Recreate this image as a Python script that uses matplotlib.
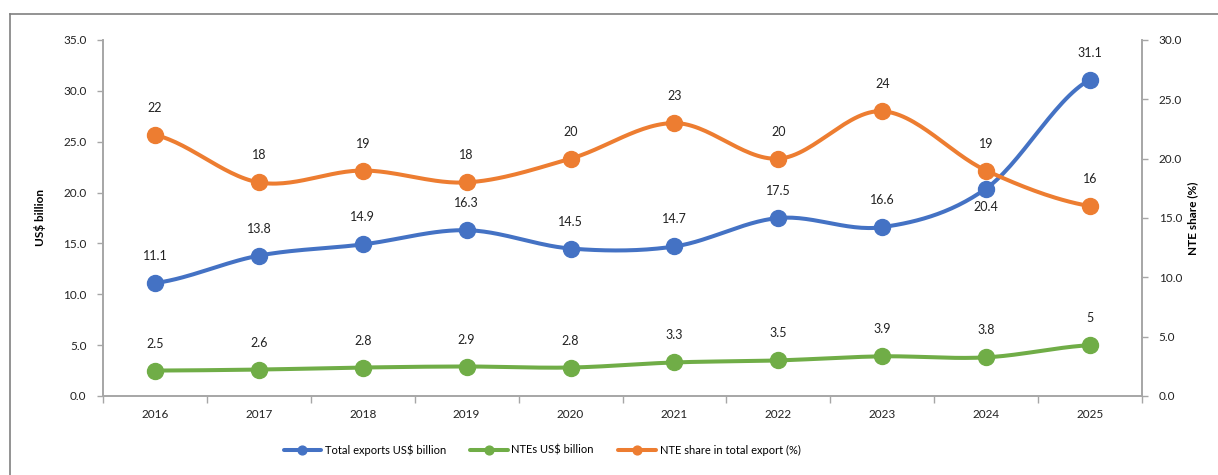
import numpy as np
from matplotlib import pyplot as plt
from matplotlib.lines import Line2D

plt.rcParams['font.family'] = ['Lato', 'DejaVu Sans']

years = ['2016', '2017', '2018', '2019', '2020', '2021', '2022', '2023', '2024', '2025']
total_exports = [11.1, 13.8, 14.9, 16.3, 14.5, 14.7, 17.5, 16.6, 20.4, 31.1]
ntes = [2.5, 2.6, 2.8, 2.9, 2.8, 3.3, 3.5, 3.9, 3.8, 5]
nte_share = [22, 18, 19, 18, 20, 23, 20, 24, 19, 16]

BLUE = '#4472C4'
GREEN = '#70AD47'
ORANGE = '#ED7D31'
AXIS_GREY = '#A6A6A6'

N = 30  # samples per segment of the smoothed curve


def smooth(y):
    # Catmull-Rom spline through the points, like the "smoothed line" option
    y = np.asarray(y, dtype=float)
    n = len(y)
    xs, ys = [], []
    for i in range(n - 1):
        p0 = y[i - 1] if i > 0 else y[i]
        p1, p2 = y[i], y[i + 1]
        p3 = y[i + 2] if i + 2 < n else y[i + 1]
        m1 = (p2 - p0) / 2
        m2 = (p3 - p1) / 2
        t = np.linspace(0, 1, N, endpoint=False)
        h00 = 2 * t**3 - 3 * t**2 + 1
        h10 = t**3 - 2 * t**2 + t
        h01 = -2 * t**3 + 3 * t**2
        h11 = t**3 - t**2
        xs.append(i + t)
        ys.append(h00 * p1 + h10 * m1 + h01 * p2 + h11 * m2)
    xs.append([n - 1])
    ys.append([y[-1]])
    return np.concatenate(xs), np.concatenate(ys)


fig = plt.figure(figsize=(12.18, 4.75), dpi=100)
ax = fig.add_axes([103 / 1218, 1 - 396 / 475, (1142 - 103) / 1218, (396 - 40) / 475])
ax2 = ax.twinx()

x = np.arange(len(years))
style = dict(lw=2.9, marker='o', markersize=11.5, markevery=N, solid_capstyle='round')

sx, sy = smooth(total_exports)
l1, = ax.plot(sx, sy, color=BLUE, label='Total exports US$ billion', **style)
sx, sy = smooth(ntes)
l2, = ax.plot(sx, sy, color=GREEN, label='NTEs US$ billion', **style)
sx, sy = smooth(nte_share)
l3, = ax2.plot(sx, sy, color=ORANGE, label='NTE share in total export (%)', **style)

# data labels
for i, v in enumerate(total_exports):
    off = -18 if years[i] == '2024' else 27
    ax.annotate(f'{v:g}', (i, v), xytext=(0, off * 0.72), textcoords='offset points',
                ha='center', va='center', fontsize=9, color='#222222')
for i, v in enumerate(ntes):
    ax.annotate(f'{v:g}', (i, v), xytext=(0, 27 * 0.72), textcoords='offset points',
                ha='center', va='center', fontsize=9, color='#222222')
for i, v in enumerate(nte_share):
    ax2.annotate(f'{v:g}', (i, v), xytext=(0, 27 * 0.72), textcoords='offset points',
                 ha='center', va='center', fontsize=9, color='#222222')

ax.set_xlim(-0.5, len(years) - 0.5)
ax.set_ylim(0, 35)
ax2.set_ylim(0, 30)
ax.set_yticks(np.arange(0, 35.1, 5))
ax2.set_yticks(np.arange(0, 30.1, 5))
ax.set_yticklabels([f'{v:.1f}' for v in np.arange(0, 35.1, 5)])
ax2.set_yticklabels([f'{v:.1f}' for v in np.arange(0, 30.1, 5)])

ax.set_xticks(x)
ax.set_xticklabels(years)
ax.set_xticks(np.arange(-0.5, len(years)), minor=True)
ax.tick_params(axis='x', which='major', length=0, pad=9, labelsize=8.5, labelcolor='#222222')
ax.tick_params(axis='x', which='minor', length=5, width=1, color=AXIS_GREY, direction='out')
ax.tick_params(axis='y', length=4, width=1, color=AXIS_GREY, pad=8, labelsize=8.5, labelcolor='#222222')
ax2.tick_params(axis='y', length=4, width=1, color=AXIS_GREY, pad=8, labelsize=8.5, labelcolor='#222222')

for a in (ax, ax2):
    a.spines['top'].set_visible(False)
    for s in ('left', 'right', 'bottom'):
        a.spines[s].set_color(AXIS_GREY)
        a.spines[s].set_linewidth(1.2)

ax.set_ylabel('US$ billion', fontsize=8.5, fontweight='bold', labelpad=12)
ax2.set_ylabel('NTE share (%)', fontsize=8.5, fontweight='bold', labelpad=4)

fig.legend(handles=[l1, l2, l3], loc='center', bbox_to_anchor=(542 / 1218, 1 - 450 / 475),
           ncol=3, frameon=False, fontsize=8, handlelength=3.4, handletextpad=0.3,
           columnspacing=2.2, markerscale=0.55)

# chart frame
fig.add_artist(Line2D([10 / 1218, 10 / 1218], [0, 1 - 14 / 475], color='#808080', lw=1.2))
fig.add_artist(Line2D([10 / 1218, 1], [1 - 14 / 475, 1 - 14 / 475], color='#808080', lw=1.2))

fig.savefig('out.png', dpi=100)
